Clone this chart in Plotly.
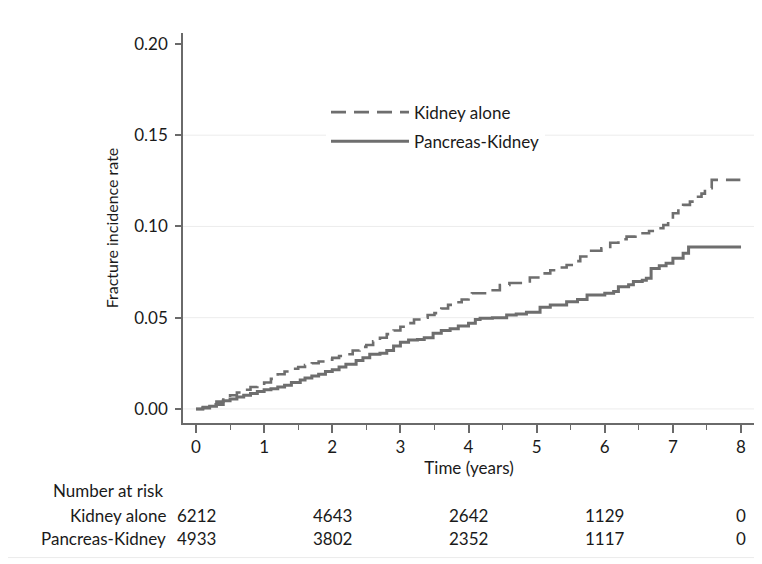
import plotly.graph_objects as go

# ---------------- data ----------------
kidney_t = [0, 0.1, 0.2, 0.3, 0.4, 0.5, 0.6, 0.7, 0.8, 0.9, 1.0, 1.1, 1.2, 1.3, 1.4, 1.5,
            1.6, 1.7, 1.8, 1.9, 2.0, 2.1, 2.2, 2.3, 2.4, 2.5, 2.6, 2.7, 2.8, 2.9, 3.0,
            3.1, 3.2, 3.3, 3.4, 3.5, 3.6, 3.7, 3.8, 3.9, 4.0, 4.05, 4.3, 4.46, 4.6, 4.8,
            4.9, 5.05, 5.2, 5.3, 5.44, 5.55, 5.64, 5.8, 5.95, 6.08, 6.2, 6.32, 6.45,
            6.52, 6.65, 6.76, 6.86, 6.93, 7.0, 7.08, 7.15, 7.25, 7.35, 7.42, 7.47, 7.57, 7.99]
kidney_v = [0, 0.001, 0.0025, 0.004, 0.0059, 0.0075, 0.009, 0.0105, 0.012, 0.013, 0.0145,
            0.0165, 0.019, 0.0205, 0.022, 0.023, 0.024, 0.025, 0.026, 0.027, 0.028, 0.029,
            0.030, 0.032, 0.034, 0.035, 0.037, 0.039, 0.041, 0.043, 0.045, 0.047, 0.049,
            0.050, 0.0515, 0.0525, 0.055, 0.057, 0.0585, 0.060, 0.062, 0.0634, 0.065,
            0.0679, 0.069, 0.0698, 0.072, 0.0743, 0.076, 0.0775, 0.0789, 0.081, 0.0835,
            0.0867, 0.088, 0.0911, 0.093, 0.0944, 0.0955, 0.0963, 0.0975, 0.099, 0.1008,
            0.104, 0.1072, 0.110, 0.1118, 0.1136, 0.1163, 0.118, 0.121, 0.1255, 0.1255]

pk_t = [0, 0.1, 0.2, 0.3, 0.4, 0.5, 0.6, 0.7, 0.8, 0.9, 1.0, 1.1, 1.2, 1.3, 1.4, 1.53,
        1.6, 1.7, 1.8, 1.9, 2.0, 2.1, 2.2, 2.35, 2.45, 2.55, 2.7, 2.8, 2.9, 3.0, 3.12,
        3.25, 3.35, 3.48, 3.6, 3.73, 3.85, 4.0, 4.1, 4.17, 4.35, 4.56, 4.7, 4.85, 5.05,
        5.2, 5.44, 5.6, 5.74, 6.0, 6.13, 6.2, 6.35, 6.42, 6.55, 6.61, 6.68, 6.8, 6.9,
        7.0, 7.15, 7.23, 8.0]
pk_v = [0, 0.0005, 0.0015, 0.0025, 0.0045, 0.0055, 0.0065, 0.0075, 0.0085, 0.0095,
        0.0105, 0.011, 0.012, 0.013, 0.0145, 0.0159, 0.017, 0.018, 0.019, 0.0205, 0.0215,
        0.023, 0.0245, 0.0265, 0.028, 0.030, 0.0305, 0.032, 0.0345, 0.0365, 0.0378,
        0.038, 0.039, 0.0415, 0.043, 0.044, 0.0455, 0.047, 0.049, 0.0497, 0.050, 0.0515,
        0.052, 0.053, 0.0557, 0.057, 0.0588, 0.060, 0.0625, 0.0634, 0.0643, 0.067, 0.068,
        0.0698, 0.0705, 0.0716, 0.077, 0.0785, 0.0798, 0.0826, 0.0853, 0.0887, 0.0887]

x_ticks = [0, 1, 2, 3, 4, 5, 6, 7, 8]
y_ticks = [0, 0.05, 0.10, 0.15, 0.20]
y_grid = [0, 0.05, 0.10, 0.15]

risk_times = [0, 2, 4, 6, 8]
risk_kidney = [6212, 4643, 2642, 1129, 0]
risk_pk = [4933, 3802, 2352, 1117, 0]
risk_labels = ["Kidney alone", "Pancreas-Kidney"]

# ---------------- style ----------------
FONT = "Lato"
FS = 17
LINE = "#6e6e6e"
AXIS = "#6a6a6a"
TXT = "#1a1a1a"

fig = go.Figure()
fig.add_trace(go.Scatter(x=kidney_t, y=kidney_v, mode="lines", line_shape="hv",
                         name="Kidney alone", legendgroup="a",
                         line=dict(color=LINE, width=2.6, dash="15px,8px")))
fig.add_trace(go.Scatter(x=pk_t, y=pk_v, mode="lines", line_shape="hv",
                         name="Pancreas-Kidney", legendgroup="b",
                         line=dict(color=LINE, width=3)))

shapes = []
for g in y_grid:
    shapes.append(dict(type="line", xref="paper", x0=0, x1=1, yref="y", y0=g, y1=g,
                       line=dict(color="#ececec", width=1), layer="below"))
# faint frame line at the very bottom
shapes.append(dict(type="line", xref="paper", x0=-0.31, x1=1.02, yref="paper",
                   y0=-0.345, y1=-0.345, line=dict(color="#ececec", width=1)))

annotations = [dict(text="Number at risk", xref="paper", x=-0.23, xanchor="left",
                    yref="paper", y=-0.172, yanchor="middle", showarrow=False,
                    font=dict(family=FONT, size=FS, color=TXT))]
row_y = [-0.236, -0.295]
for lab, yy, vals in zip(risk_labels, row_y, [risk_kidney, risk_pk]):
    annotations.append(dict(text=lab, xref="paper", x=-0.027, xanchor="right",
                            yref="paper", y=yy, yanchor="middle", showarrow=False,
                            font=dict(family=FONT, size=FS, color=TXT)))
    for t, v in zip(risk_times, vals):
        annotations.append(dict(text=str(v), xref="x", x=t, xanchor="center",
                                yref="paper", y=yy, yanchor="middle", showarrow=False,
                                font=dict(family=FONT, size=FS, color=TXT)))

fig.update_layout(
    width=754, height=556,
    margin=dict(l=175, r=7, t=25, b=141),
    paper_bgcolor="white", plot_bgcolor="white",
    font=dict(family=FONT, size=FS, color=TXT),
    showlegend=True,
    legend=dict(x=0.25, y=0.842, xanchor="left", yanchor="top",
                bgcolor="white", borderwidth=0, itemwidth=78,
                traceorder="grouped", tracegroupgap=4,
                font=dict(family=FONT, size=FS, color=TXT)),
    xaxis=dict(range=[-0.191, 8.205], tickvals=x_ticks, ticks="outside", ticklen=8,
               tickwidth=1.5, tickcolor=AXIS, showline=True, linecolor=AXIS, linewidth=1.5,
               showgrid=False, zeroline=False,
               minor=dict(dtick=0.5, ticks="outside", ticklen=5, tickcolor=AXIS,
                          tickwidth=1.2, showgrid=False),
               title=dict(text="Time (years)", standoff=6,
                          font=dict(family=FONT, size=FS, color=TXT)),
               tickfont=dict(family=FONT, size=FS, color=TXT)),
    yaxis=dict(range=[-0.0077, 0.206], tickvals=y_ticks, tickformat=".2f",
               ticks="outside", ticklen=6, tickwidth=1.5, tickcolor=AXIS,
               showline=True, linecolor=AXIS, linewidth=1.5, showgrid=False,
               zeroline=False, ticklabelstandoff=4,
               title=dict(text="Fracture incidence rate", standoff=12,
                          font=dict(family=FONT, size=16, color=TXT)),
               tickfont=dict(family=FONT, size=FS, color=TXT)),
    shapes=shapes,
    annotations=annotations,
)

fig.write_html("out.html")
